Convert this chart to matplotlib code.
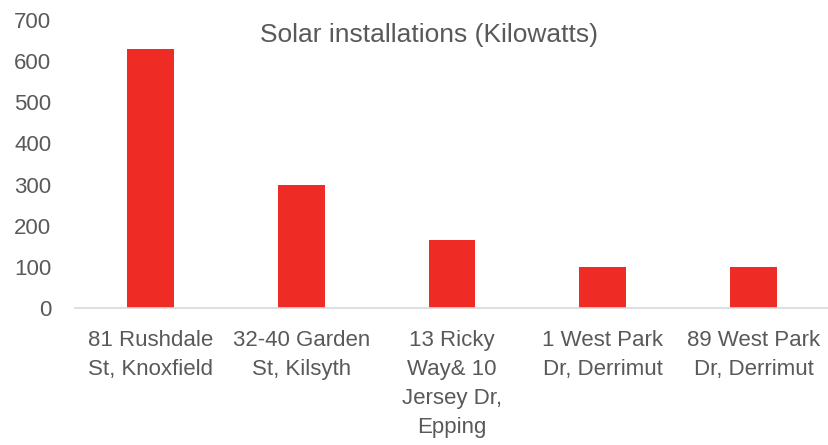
import matplotlib
matplotlib.use("Agg")
import matplotlib.pyplot as plt
from matplotlib import font_manager

# data
sites = ["81 Rushdale\nSt, Knoxfield", "32-40 Garden\nSt, Kilsyth",
         "13 Ricky\nWay& 10\nJersey Dr,\nEpping", "1 West Park\nDr, Derrimut",
         "89 West Park\nDr, Derrimut"]
kilowatts = [630, 300, 165, 100, 100]
yticks = [0, 100, 200, 300, 400, 500, 600, 700]

names = {f.name for f in font_manager.fontManager.ttflist}
fam = "Liberation Sans Narrow" if "Liberation Sans Narrow" in names else "Liberation Sans"
plt.rcParams['font.family'] = [fam, "DejaVu Sans"]

grey = "#595959"
fig = plt.figure(figsize=(8.29, 4.45), dpi=100)
ax = fig.add_axes([0.0905, 0.308, 0.9095, 0.647])

x = range(len(sites))
ax.bar(x, kilowatts, width=0.31, color="#EE2B24")

ax.set_xlim(-0.5, len(sites) - 0.5)
ax.set_ylim(0, 700)
ax.set_yticks(yticks)
ax.set_xticks(list(x))
ax.set_xticklabels(sites, linespacing=1.5)

for s in ["top", "right", "left"]:
    ax.spines[s].set_visible(False)
ax.spines["bottom"].set_color("#d9d9d9")
ax.spines["bottom"].set_linewidth(1.2)

ax.tick_params(axis="both", length=0, labelsize=16, labelcolor=grey)
ax.tick_params(axis="y", pad=17)
ax.tick_params(axis="x", pad=16)

fig.text(0.517, 0.922, "Solar installations (Kilowatts)", ha="center", va="center",
         fontsize=19, color=grey)

fig.savefig("out.png", dpi=100)
